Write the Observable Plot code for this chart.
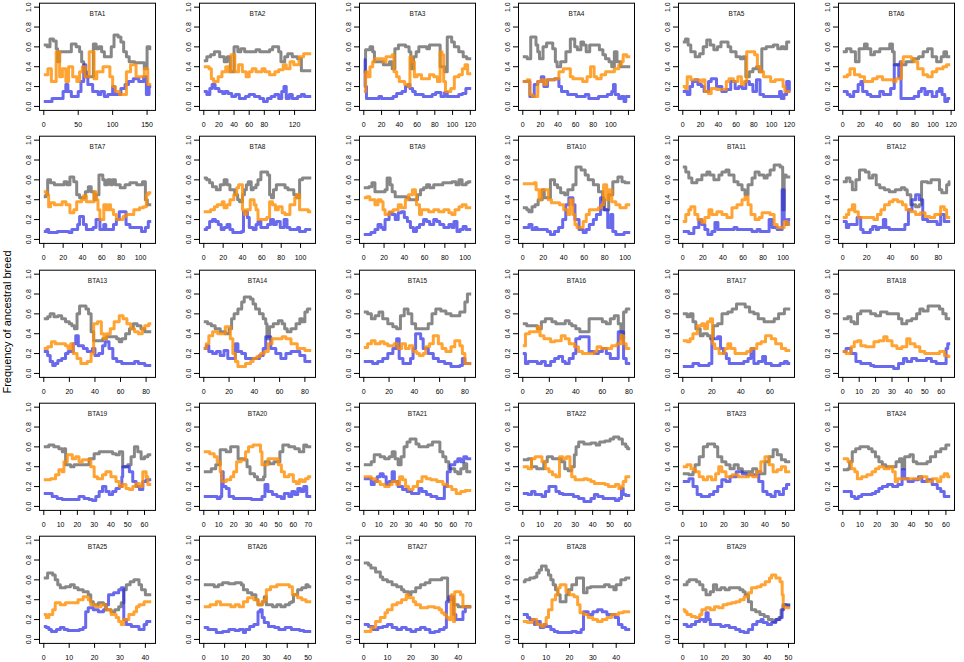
<!DOCTYPE html>
<html>
<head>
<meta charset="utf-8">
<script src="https://cdn.jsdelivr.net/npm/d3@7"></script>
<script src="https://cdn.jsdelivr.net/npm/@observablehq/plot@0.6"></script>
<style>
  html, body { margin: 0; padding: 0; background: #fff; }
  #wrap { position: relative; width: 964px; height: 662px; overflow: hidden; background: #fff;
          font-family: "Liberation Sans", Arial, sans-serif; }
  #ylab { position: absolute; left: 6.5px; top: 322px; transform: translate(-50%, -50%) rotate(-90deg);
          font-size: 11px; white-space: nowrap; color: #000; line-height: 1; }
</style>
</head>
<body>
<div id="wrap"><div id="ylab">Frequency of ancestral breed</div></div>
<script>
// ---- chart data -------------------------------------------------------
const names = ["BTA1","BTA2","BTA3","BTA4","BTA5","BTA6","BTA7","BTA8","BTA9","BTA10",
  "BTA11","BTA12","BTA13","BTA14","BTA15","BTA16","BTA17","BTA18","BTA19","BTA20",
  "BTA21","BTA22","BTA23","BTA24","BTA25","BTA26","BTA27","BTA28","BTA29"];

// chromosome length (Mb) = extent of each x axis
const lengths = [156,142,121,122,121,119, 111,111,106,105,107,90, 84,85,85,81,74,65.5,
  64,72,72,61.5,52.3,62.5, 42.3,51.5,45.5,46,50.8];

// x ticks: spacing, last tick, and tick labels left out (overlap in the original)
const tickStep = [50,20,20,20,20,20, 20,20,20,20,20,20, 20,20,20,20,20,10, 10,10,10,10,10,10, 10,10,10,10,10];
const tickMax  = [150,120,120,120,120,120, 100,100,100,100,100,80, 80,80,80,80,60,60, 60,70,70,60,50,60, 40,50,40,40,50];
const unlabeledTicks = [[],[100],[],[120],[],[], [],[],[],[],[],[], [],[],[],[],[],[], [],[],[],[],[],[], [],[],[],[],[]];
const yTicks = [0, 0.2, 0.4, 0.6, 0.8, 1.0];

// series: flat lists of position (Mb), frequency pairs
const gray = [
 [0,.62,5,.6,9,.68,14,.66,18,.58,20,.45,23,.55,40,.63,47,.6,52,.55,55,.45,58,.35,62,.3,72,.63,76,.58,80,.6,84,.55,88,.5,98,.6,102,.72,108,.7,112,.65,116,.55,120,.5,124,.45,132,.44,146,.38,150,.6,154,.58],
 [0,.46,4,.5,9,.52,14,.55,21,.5,27,.45,31,.5,35,.35,40,.6,45,.55,49,.58,54,.55,69,.57,74,.55,87,.57,91,.6,99,.55,102,.45,107,.5,111,.53,117,.5,124,.48,129,.36],
 [0,.35,2,.57,7,.6,10,.55,12,.45,22,.42,29,.45,32,.38,35,.58,39,.62,47,.6,51,.55,53,.38,56,.5,59,.55,62,.6,71,.58,74,.62,86,.4,91,.35,94,.7,99,.65,102,.6,107,.55,112,.5,116,.48],
 [0,.5,5,.48,9,.7,15,.62,17,.55,19,.48,23,.6,27,.64,34,.58,37,.45,39,.4,43,.45,49,.55,54,.68,59,.6,62,.57,66,.65,69,.62,72,.55,76,.62,87,.57,91,.52,94,.48,98,.45,101,.4,104,.55,107,.45,111,.4],
 [0,.65,3,.68,6,.62,9,.55,14,.5,19,.53,23,.6,27,.67,31,.62,35,.57,39,.6,43,.65,51,.6,54,.55,60,.5,65,.48,68,.5,71,.3,75,.35,79,.38,83,.4,86,.35,89,.58,94,.6,102,.62,107,.58,111,.6,114,.58,117,.65],
 [0,.55,4,.58,9,.55,14,.45,18,.58,24,.63,27,.58,31,.52,35,.55,41,.58,52,.63,55,.55,57,.42,62,.42,70,.45,78,.48,84,.5,89,.55,94,.58,99,.5,104,.45,109,.5,112,.55,115,.5],
 [0,.43,2,.45,4,.6,7,.57,11,.55,21,.58,24,.55,27,.63,31,.58,34,.45,37,.42,43,.48,46,.53,49,.48,52,.4,54,.45,57,.65,61,.6,63,.55,66,.6,69,.55,71,.6,74,.55,79,.52,84,.55,89,.57,96,.55,102,.58,105,.4,107,.35],
 [0,.62,3,.6,6,.57,9,.53,13,.5,17,.55,21,.6,24,.55,27,.5,32,.45,35,.4,37,.38,40,.45,42,.5,44,.55,46,.58,49,.5,51,.52,54,.55,56,.6,59,.68,66,.65,68,.45,70,.42,72,.5,75,.55,84,.52,87,.5,93,.45,96,.42,99,.6,102,.62],
 [0,.52,5,.53,8,.57,11,.48,21,.5,23,.62,26,.55,28,.48,31,.43,42,.42,45,.4,53,.45,56,.5,59,.52,62,.55,65,.52,69,.55,78,.57,87,.58,91,.55,94,.6,97,.55,101,.57,103,.58],
 [0,.32,4,.3,6,.28,9,.33,12,.35,15,.4,19,.5,21,.42,27,.6,31,.55,34,.52,37,.47,41,.45,44,.5,49,.55,52,.73,57,.7,61,.65,64,.6,69,.55,74,.48,78,.4,80,.3,84,.45,88,.58,93,.63,97,.58,100,.57],
 [0,.73,3,.68,6,.62,9,.57,14,.6,19,.65,24,.68,27,.65,31,.6,36,.65,39,.68,43,.7,46,.65,51,.58,55,.55,59,.5,62,.45,65,.55,69,.62,72,.68,76,.65,81,.62,84,.65,87,.7,91,.75,97,.73,99.5,.3,101,.65,103,.63],
 [0,.58,3,.62,6,.58,8,.5,11,.6,14,.7,19,.68,22,.62,25,.65,28,.55,31,.52,35,.5,39,.48,44,.5,49,.52,52,.5,54,.45,57,.35,61,.33,64,.35,66,.58,71,.57,74,.6,81,.5,83,.47,87,.55,89,.58],
 [0,.55,3,.57,5,.6,8,.57,11,.58,14,.55,17,.52,20,.5,22,.48,24,.45,26,.6,28,.68,33,.65,35,.6,37,.42,39,.33,46,.35,49,.37,57,.35,59,.32,61,.35,64,.4,67,.45,70,.5,73,.48,76,.45,79,.42],
 [0,.52,3,.5,6,.48,9,.45,13,.42,17,.4,20,.45,22,.55,24,.6,27,.65,30,.72,32,.77,37,.75,39,.7,41,.65,44,.6,47,.55,49,.5,50,.35,52,.47,55,.5,59,.53,62,.5,64,.45,66,.42,69,.45,73,.5,76,.55,78,.52,80,.62,82,.65],
 [0,.62,3,.6,6,.55,9,.58,12,.62,15,.55,19,.5,23,.47,26,.45,29,.58,32,.65,35,.6,38,.5,41,.45,51,.5,54,.6,57,.65,61,.63,65,.6,69,.58,76,.62,80,.72,82,.8],
 [0,.5,3,.48,11,.45,14,.52,17,.55,22,.52,25,.5,32,.53,35,.5,37,.48,40,.45,43,.42,50,.55,60,.52,63,.5,66,.55,69,.58,72,.5,74,.35,76,.62,78,.65],
 [0,.6,3,.57,5,.6,7,.52,9,.45,12,.38,14,.4,17,.38,19,.35,21,.48,24,.5,27,.6,31,.62,34,.65,37,.7,43,.67,46,.62,49,.6,52,.55,56,.52,63,.55,66,.6,70,.65],
 [0,.55,3,.57,5,.52,7,.5,9,.6,11,.63,17,.6,20,.58,23,.62,27,.6,34,.55,36,.5,39,.53,42,.55,45,.6,47,.65,49,.63,52,.68,59,.65,61,.6,63,.55],
 [0,.6,3,.62,6,.6,9,.58,11,.55,12,.58,13,.42,16,.4,18,.42,27,.48,30,.53,33,.55,41,.53,43,.52,45,.55,47,.4,50,.42,52,.5,54,.6,56,.55,58,.48,60,.5,62,.52],
 [0,.35,5,.38,8,.42,11,.57,15,.55,18,.6,23,.48,27,.47,29,.4,31,.33,34,.3,36,.27,40,.3,41,.45,44,.43,47,.45,51,.55,53,.62,57,.6,61,.58,64,.55,67,.62,69,.6],
 [0,.42,5,.45,7,.52,11,.5,14,.48,17,.5,19,.55,21,.48,23,.42,25,.5,27,.6,29,.65,31,.68,35,.63,37,.6,43,.62,46,.65,51,.55,53,.5,55,.45,57,.38,61,.35,63,.33,65,.38,67,.43,69,.35],
 [0,.47,3,.48,5,.4,8,.38,12,.45,14,.5,17,.48,22,.45,24,.38,26,.36,28,.4,29.5,.52,30.5,.6,32,.65,35,.63,39,.64,42,.62,44,.65,47,.66,50,.68,52,.7,55,.68,57,.63,59,.6,60,.58],
 [0,.33,3,.32,5,.35,6,.42,8,.5,10,.6,12,.63,15.5,.6,17,.5,19,.45,21,.42,23,.38,25,.42,27,.38,29,.35,34,.38,36,.35,38,.33,40,.45,42,.5,44,.57,46,.52,48,.47,50,.45],
 [0,.37,3,.38,4,.45,5.5,.55,7.5,.58,10,.6,15,.58,17,.55,19,.5,21,.45,23,.42,25,.4,31,.45,33,.48,34.5,.38,36,.5,39,.52,41,.45,43,.43,49,.45,51,.5,54,.55,57,.58,60,.62],
 [0,.62,1.5,.67,3.5,.65,4.5,.6,5.5,.55,6.5,.52,8.5,.53,10.5,.55,12,.52,13.5,.5,15.5,.48,17.5,.45,18.5,.38,19.5,.35,21.5,.37,23.5,.35,24.5,.3,26.5,.28,28,.3,29.5,.33,30.5,.37,31.5,.5,32.5,.55,34,.58,35.5,.6,37.5,.55,38.5,.5,40,.45],
 [0,.55,5,.53,7,.55,9,.57,12,.56,15,.57,18,.55,19,.5,21,.47,23,.45,25,.4,26,.35,28,.38,29,.43,30,.35,33,.33,35,.35,37,.33,39,.35,41,.37,42,.38,43,.45,45,.5,47,.52,49,.55,50,.53],
 [0,.77,2,.75,3,.72,5,.68,7,.63,8,.6,10,.58,12,.55,14,.53,16,.5,17,.48,19,.45,20,.48,22,.52,24,.55,26,.57,28,.6,33,.62,35.5,.4,38,.35,40,.33],
 [0,.58,1,.6,3,.62,5,.63,6,.67,7,.7,8,.74,10,.7,11,.65,12,.6,13,.55,14,.5,15,.45,16,.38,18.5,.45,19.5,.5,21,.55,23,.62,26,.47,27.5,.52,29,.53,35,.55,37,.53,39,.5,40,.55,42,.6,44,.62],
 [0,.55,2,.58,3,.6,6.5,.58,8,.55,9.5,.5,11,.45,13,.48,14.5,.55,16,.5,18,.52,20,.5,22,.52,27,.5,28.5,.48,29.5,.45,31,.38,32.5,.3,34.5,.28,36.5,.25,38.5,.23,40.5,.2,42.5,.18,44,.2,45.5,.22,46.5,.3,47.5,.35]
];

const orange = [
 [0,.32,6,.38,11,.25,18,.55,23,.3,27,.38,32,.25,36,.4,42,.3,48,.25,52,.35,56,.4,60,.3,66,.55,73,.28,77,.35,86,.4,96,.3,100,.2,104,.15,110,.12,120,.35,126,.42,134,.3,146,.38,151,.22],
 [0,.4,7,.38,10,.28,13,.25,19,.3,24,.35,29,.4,32,.35,36,.52,41,.35,46,.42,51,.35,56,.3,60,.35,64,.38,69,.35,77,.38,81,.35,87,.32,94,.35,99,.37,105,.42,109,.38,114,.45,119,.42,126,.5,132,.53],
 [0,.15,2,.35,4,.3,7,.4,10,.45,12,.48,22,.45,25,.5,32,.52,34,.35,37,.3,40,.25,46,.22,50,.2,52,.5,54,.45,57,.3,60,.32,65,.28,74,.32,79,.3,83,.25,86,.55,88,.52,90,.25,92,.15,98,.18,102,.3,107,.32,111,.38,114,.42,117,.33],
 [0,.25,5,.27,8,.12,11,.1,17,.25,21,.27,24,.22,27,.27,37,.28,41,.35,46,.38,54,.3,57,.28,68,.25,73,.3,77,.4,81,.3,84,.28,89,.32,94,.35,104,.38,109,.42,112,.45,114,.52,118,.5],
 [0,.2,3,.18,5,.3,9,.27,19,.25,22,.27,25,.15,29,.13,32,.18,38,.17,49,.25,52,.28,57,.25,62,.3,66,.22,69,.25,72,.55,81,.52,84,.4,87,.35,91,.3,99,.25,104,.27,113,.2,115,.15],
 [0,.3,5,.32,8,.38,13,.32,19,.3,24,.25,33,.28,38,.3,44,.27,56,.25,59,.28,65,.45,67,.5,76,.48,79,.45,83,.38,89,.32,94,.3,99,.35,104,.38,111,.4,115,.42],
 [0,.48,3,.45,5,.33,7,.37,11,.35,19,.38,23,.35,27,.27,31,.3,34,.38,39,.4,41,.44,44,.38,52,.48,54,.4,56,.3,58,.2,62,.35,65,.3,67,.35,69,.3,72,.25,75,.2,82,.23,85,.25,93,.3,99,.32,103,.33,106,.45,108,.47],
 [0,.28,7,.3,11,.33,14,.35,19,.38,21,.32,24,.35,27,.4,31,.45,34,.52,36,.55,40,.3,42,.25,44,.3,48,.4,52,.35,54,.3,56,.2,65,.22,68,.38,71,.35,74,.3,77,.33,81,.27,84,.25,89,.35,94,.42,96,.45,99,.3,108,.28],
 [0,.42,3,.43,6,.4,11,.35,14,.4,17,.38,19,.3,21,.25,25,.28,29,.3,34,.35,37,.32,41,.4,44,.45,48,.5,51,.45,52,.35,55,.25,57,.3,64,.28,69,.3,74,.28,79,.3,84,.27,87,.25,90,.3,94,.33,97,.35,101,.32],
 [0,.56,11,.57,13,.5,16,.4,18,.5,25,.4,28,.37,36,.35,40,.3,44,.25,46,.4,49,.25,51,.15,53,.12,59,.18,62,.25,65,.3,74,.32,77,.35,79,.55,82,.4,84,.5,87,.38,91,.35,95,.32,101,.35],
 [0,.18,3,.25,6,.3,8,.33,12,.25,15,.2,19,.17,22,.22,26,.3,29,.25,34,.28,39,.25,44,.22,49,.32,54,.35,59,.4,62,.43,65,.35,68,.25,72,.2,76,.22,79,.27,87,.25,91,.15,94,.12,101,.18,104,.15],
 [0,.22,3,.25,5,.3,8,.35,10,.28,13,.22,26,.2,29,.25,32,.3,35,.35,39,.38,42,.4,46,.38,50,.35,53,.3,57,.28,61,.25,65,.27,69,.23,73,.22,77,.25,82,.33,85,.3,87,.22],
 [0,.25,3,.27,6,.32,9,.3,17,.28,19,.25,21,.3,23,.2,26,.15,29,.1,34,.12,37,.2,39,.5,42,.52,45,.4,47,.35,49,.4,52,.45,55,.52,59,.58,62,.55,65,.5,68,.45,71,.42,74,.4,77,.45,79,.48,82,.5],
 [0,.25,2,.3,4,.38,7,.42,11,.4,17,.47,21,.35,23,.2,25,.12,27,.07,33,.1,37,.12,39,.15,42,.17,45,.2,48,.22,51,.3,54,.35,62,.37,65,.35,69,.3,74,.25,80,.23],
 [0,.26,3,.3,6,.33,9,.3,13,.32,16,.3,19,.28,24,.3,27,.25,30,.3,33,.25,36,.28,39,.22,42,.2,44,.18,47,.2,49,.27,52,.3,55,.38,59,.3,62,.25,65,.22,69,.27,72,.33,76,.28,78,.2,80,.1],
 [0,.28,2,.4,5,.42,11,.47,13,.38,16,.35,21,.32,24,.33,29,.38,32,.35,35,.3,39,.27,42,.22,45,.2,54,.22,56,.27,59,.25,67,.28,71,.3,74,.38,76,.3,78,.25],
 [0,.33,3,.32,5,.35,7,.4,10,.48,13,.5,15,.45,17,.52,19,.55,20.5,.3,22,.25,25,.2,29,.25,31,.3,33,.25,36,.2,44,.22,47,.25,51,.3,54,.32,57,.38,61,.35,64,.3,68,.25,71,.23],
 [0,.22,2,.2,5,.27,7,.32,9,.33,11,.28,14,.27,19,.32,22,.33,25,.37,27,.33,30,.28,33,.25,36,.27,39,.35,41,.3,44,.27,47,.22,50,.2,59,.22,62,.18,64,.17],
 [0,.27,4,.28,7,.32,9,.37,11,.35,12,.45,14,.52,17,.48,19,.5,21,.45,23,.47,28,.4,30,.3,32,.28,35,.32,37,.35,40,.3,43,.25,45,.2,47,.22,49,.18,51,.17,53,.2,55,.23,57,.2,59,.35,61,.3,62,.22],
 [0,.55,4,.53,7,.5,9,.45,11,.35,12,.25,15,.27,18,.3,20,.35,22,.45,25,.47,28,.55,30,.6,33,.62,38,.55,39,.42,43,.48,50,.42,52,.35,54,.3,57,.32,60,.25,62,.23,64,.27,66,.25,68,.28,70,.3],
 [0,.3,5,.28,8,.25,11,.22,14,.2,17,.22,19,.25,22,.22,24,.3,26,.27,28,.2,30,.17,33,.2,36,.25,39,.3,42,.28,45,.27,49,.25,53,.22,56,.2,59,.17,62,.13,65,.15,68,.16],
 [0,.4,3,.38,5,.48,7,.5,11,.45,13,.38,15,.35,17,.32,19,.3,21,.5,23,.48,25,.5,27,.4,28,.3,30,.27,35,.28,37,.27,39,.25,41,.23,47,.22,49,.2,53,.22,55,.18,56.5,.2,57.5,.25,59,.3],
 [0,.4,2,.42,4,.38,6,.35,8,.3,10,.27,12,.3,14,.27,16,.33,17.5,.4,19,.35,21,.3,24,.32,27,.3,32,.32,34,.3,36,.35,38,.45,40,.5,42,.42,44,.35,46,.37,48,.4,50,.35],
 [0,.48,3,.45,5,.38,7,.35,8.5,.28,11,.3,14,.32,17,.35,19,.38,21,.4,24,.38,27,.4,29,.35,30.5,.25,32,.28,45,.3,49,.25,52,.28,55,.25,57,.3,59,.33,61,.3],
 [0,.25,1,.22,2,.25,3.5,.3,4.5,.37,6.5,.35,8.5,.37,13.5,.4,15.5,.43,17.5,.4,18.5,.35,20.5,.33,22.5,.35,24.5,.3,26.5,.25,28.5,.22,29.5,.18,30.5,.15,31.5,.2,33.5,.25,35.5,.28,36.5,.33,37.5,.35,39.5,.38],
 [0,.33,3,.35,6,.38,8,.35,13,.33,15,.35,17,.33,19,.38,21,.42,24,.4,26,.35,28,.38,29,.4,30,.5,32,.53,35,.55,41,.53,42.5,.45,45,.42,47,.4,49,.38],
 [0,.08,2,.08,3,.12,5,.18,7,.22,9,.27,10,.3,12,.35,14,.37,16,.4,18,.45,19,.42,21,.38,22,.35,24,.32,27,.33,30,.32,32,.3,33,.27,34,.25,35,.22,36,.2,37,.45,38,.18,38.5,.48,41,.45,42,.33],
 [0,.18,2,.17,4,.2,6,.15,8,.13,9,.15,10,.22,11,.3,12.5,.4,14,.45,15,.52,16,.55,18.5,.48,20,.45,22,.43,23.5,.35,24.5,.27,26,.25,28,.22,30,.2,32,.18,34,.2,36,.22,38,.25,41,.27,43,.28],
 [0,.3,1,.28,2,.25,4,.23,6,.22,8,.25,9,.3,11,.32,13,.3,15,.33,17,.32,19,.35,21,.36,23,.37,25,.38,27,.4,29,.43,31,.47,32.5,.52,35,.53,37,.55,39,.58,41,.62,42,.65,44,.62,46,.58,47,.45,47.5,.33,48.5,.32]
];

const blue = [
 [0,.05,12,.08,28,.15,32,.22,35,.15,40,.1,50,.15,54,.25,58,.42,61,.3,64,.22,71,.15,79,.12,83,.15,88,.1,93,.12,100,.2,103,.12,112,.18,118,.22,123,.25,130,.28,138,.25,145,.3,149,.12,153,.2],
 [0,.15,4,.12,8,.18,11,.22,15,.18,20,.15,25,.13,28,.15,32,.13,37,.1,42,.12,47,.08,55,.1,60,.12,67,.1,74,.08,79,.05,84,.08,89,.1,94,.12,99,.08,103,.15,106,.2,109,.08,113,.12,117,.08,124,.1,129,.12,133,.1],
 [0,.47,1.5,.2,3,.08,17,.1,20,.08,33,.1,37,.13,43,.15,47,.2,50,.22,52,.18,55,.15,58,.12,67,.1,77,.12,81,.14,87,.1,91,.14,94,.1,107,.12,111,.13,115,.18],
 [0,.25,8,.1,13,.22,17,.25,21,.3,24,.2,28,.27,36,.28,41,.2,44,.15,51,.12,61,.1,71,.12,75,.08,86,.1,96,.12,101,.15,103,.22,105,.12,109,.08,112,.1,115,.05,117,.1],
 [0,.15,5,.12,8,.2,11,.25,14,.27,17,.22,21,.2,24,.15,29,.25,32,.28,38,.2,44,.15,49,.17,54,.25,59,.18,63,.2,67,.18,71,.25,75,.22,79,.15,83,.27,87,.12,91,.1,109,.15,111,.08,114,.12,117,.25,120,.15],
 [0,.15,5,.12,8,.1,12,.15,17,.22,20,.25,22,.15,27,.12,31,.1,41,.15,45,.12,53,.18,57,.42,62,.3,63.5,.45,64.5,.08,79,.1,84,.15,87,.18,91,.12,94,.15,99,.1,104,.15,107,.18,110,.12,113,.05,116,.08],
 [0,.08,3,.1,5,.07,14,.08,26,.07,29,.1,35,.15,37,.23,41,.15,44,.1,51,.12,54,.2,58,.1,62,.15,64,.1,72,.15,75,.2,78,.28,85,.15,89,.12,101,.08,105,.12,108,.18],
 [0,.1,3,.12,6,.18,9,.2,12,.18,15,.15,18,.1,21,.12,24,.15,27,.1,30,.07,39,.08,41,.28,45,.22,47,.12,51,.1,54,.15,56,.18,59,.12,66,.15,69,.2,72,.15,75,.18,79,.12,83,.2,86,.12,89,.1,97,.12,99,.08,105,.1],
 [0,.05,7,.07,11,.1,14,.15,17,.12,19,.1,21,.2,25,.27,28,.25,31,.2,34,.27,37,.28,40,.22,43,.18,46,.12,49,.08,52,.12,55,.15,59,.2,62,.18,65,.15,69,.2,72,.18,75,.15,79,.12,84,.15,87,.12,89,.18,92,.08,95,.1,98,.13,101,.1],
 [0,.12,6,.15,9,.1,12,.12,14,.1,24,.08,27,.05,31,.08,35,.12,39,.2,42,.35,45,.42,49,.35,51,.2,55,.1,59,.07,62,.1,65,.15,69,.2,72,.25,76,.42,79,.3,83,.12,86,.25,88,.08,91,.05,99,.07],
 [0,.08,6,.06,11,.12,16,.2,19,.15,22,.1,25,.05,29,.08,32,.17,35,.1,51,.12,54,.1,69,.08,74,.1,77,.08,86,.2,89,.12,94,.1,99,.5,101,.2,103,.15,105,.2],
 [0,.18,3,.12,5,.15,12,.22,15,.1,17,.07,23,.1,25,.13,28,.1,30,.12,34,.2,36,.12,39,.1,52,.15,55,.3,58,.4,61,.45,64,.4,67,.2,71,.18,79,.15,82,.25,85,.18],
 [0,.22,3,.18,5,.12,7,.08,9,.1,11,.13,14,.15,17,.2,19,.22,23,.3,25,.38,27,.28,31,.25,34,.22,38,.25,40,.18,43,.2,46,.28,48,.32,51,.25,54,.15,57,.12,61,.1,71,.12,74,.1,79,.08],
 [0,.25,2,.28,4,.22,7,.2,10,.22,13,.18,16,.23,19,.15,25,.3,27,.22,30,.2,33,.15,44,.18,47,.25,49,.37,53,.25,57,.2,61,.15,65,.2,69,.22,76,.18,80,.12],
 [0,.12,7,.1,11,.12,15,.15,19,.2,23,.25,26,.35,28,.15,31,.1,37,.15,39,.25,41,.4,45,.35,47,.25,51,.2,55,.15,59,.12,64,.1,69,.07,76,.08,78,.15,80,.1],
 [0,.2,2,.1,4,.12,11,.1,14,.12,17,.08,21,.12,24,.15,27,.17,30,.12,32,.1,35,.15,38,.2,40,.35,43,.37,50,.22,54,.2,57,.22,60,.25,63,.2,66,.15,72,.42,76,.15,78,.1],
 [0,.07,7,.1,11,.08,18,.1,20,.35,24,.37,26,.25,28,.2,30,.15,32,.1,42,.12,45,.15,47,.25,49,.1,52,.12,55,.17,57,.1,61,.08,67,.1,70,.12,72,.1],
 [0,.22,2,.25,5,.2,8,.12,11,.1,17,.08,19,.07,31,.05,34,.1,37,.15,39,.12,42,.15,45,.13,51,.15,54,.12,57,.1,63,.25,64,.3],
 [0,.13,5,.1,8,.08,11,.07,21,.1,24,.08,27,.07,29,.06,31,.1,33,.15,35,.2,37,.15,39,.12,41,.15,43,.18,45,.2,46.5,.3,47,.4,51,.35,53,.25,55,.2,57,.17,59,.25,61,.27],
 [0,.1,9,.08,11,.1,12,.35,13,.2,15,.18,17,.1,20,.08,32,.07,39,.1,41,.22,43,.15,46,.12,49,.1,52,.08,54,.13,57,.1,59,.15,61,.12,63,.18,65,.15,67,.2,69,.1],
 [0,.28,5,.22,7,.25,9,.3,11,.33,13,.3,15,.22,17,.25,19,.35,20.5,.25,23,.2,26,.17,29,.15,32,.13,37,.18,39,.15,42,.12,45,.1,49,.08,54,.2,56,.35,58,.42,61,.45,63,.48,65,.45,67,.5,69,.48],
 [0,.13,3,.12,5,.15,7,.12,11,.1,13,.15,15,.2,19,.15,21,.13,23,.12,29,.1,32,.08,35,.05,39,.08,41,.12,43,.1,46,.08,53,.06,55,.08,56.5,.18,57.5,.12,59,.11],
 [0,.25,3,.28,5,.2,7,.12,9,.1,13,.12,15,.15,17,.2,19,.27,21,.25,23,.3,26,.35,29,.33,31,.32,37,.25,39,.15,41,.12,43,.1,45,.15,47,.12,49,.18,50.5,.22],
 [0,.15,5,.1,7,.08,9,.1,11,.12,17,.13,19,.15,21,.18,23,.2,26,.22,29,.2,32,.22,34.5,.37,36,.28,38,.25,41,.27,44,.3,46,.25,49,.27,52,.22,55,.18,57,.15,59,.1],
 [0,.13,1,.12,2,.1,3,.08,5,.1,6.5,.12,8,.1,9.5,.09,14,.1,15.5,.12,16.5,.28,17.5,.32,19.5,.3,21.5,.28,23.5,.3,24.5,.35,25.5,.45,27.5,.47,29.5,.5,30.5,.52,31.5,.2,32.5,.15,34.5,.13,37.5,.1,39.5,.15,40.5,.18],
 [0,.12,2,.1,6,.07,9,.08,12,.1,15,.09,17,.1,19,.07,20,.1,22,.13,24,.15,26,.28,27,.3,28,.22,29,.17,31,.13,34,.12,36,.1,39,.12,42,.1,46,.09,48,.08],
 [0,.15,2,.13,4,.1,6,.12,8,.13,10,.15,12,.12,14,.1,16,.12,18,.1,20,.08,22,.1,24,.12,26,.1,28,.07,30,.08,32,.1,34,.12,35,.38,36,.43,38,.25,39,.2,42,.28,43,.33],
 [0,.25,2,.22,3,.2,5,.15,6,.18,7.5,.12,9,.15,10,.13,12,.1,13.5,.08,15,.07,21,.08,23,.07,25,.1,26,.28,28,.25,30,.28,32,.3,34,.28,36,.25,39.5,.22,41,.15,42.5,.12,44,.1],
 [0,.15,2,.13,4,.15,6,.18,8,.2,10,.18,11,.27,12,.2,13,.15,18,.13,20,.14,22,.12,25,.1,27,.08,29,.07,31,.1,33,.15,35,.18,37,.2,38,.17,40,.15,42,.17,44,.2,46,.22,47,.3,47.5,.35,49,.34]
];

// ---- drawing -----------------------------------------------------------
const wrap = document.getElementById("wrap");
const colW = 159.8, rowH = 133.3;
const fmtY = d3.format(".1f");

function toPoints(flat, L) {
  const pts = [];
  for (let j = 0; j < flat.length; j += 2) pts.push({pos: flat[j], freq: flat[j + 1]});
  pts.push({pos: L, freq: flat[flat.length - 1]});
  return pts;
}

names.forEach((name, i) => {
  const r = Math.floor(i / 6), c = i % 6;
  const L = lengths[i];
  const xmin = -0.04 * L, xmax = 1.04 * L;
  const ticks = d3.range(0, tickMax[i] + 1e-9, tickStep[i]);
  const hidden = unlabeledTicks[i];
  const lineOpts = {x: "pos", y: "freq", curve: "step-after", strokeWidth: 3,
                    strokeLinejoin: "round", strokeLinecap: "butt"};
  const svg = Plot.plot({
    width: 160, height: 133,
    marginLeft: 39, marginRight: 5, marginTop: 2.7, marginBottom: 23.1,
    style: {fontFamily: "'Liberation Sans', Arial, sans-serif", fontSize: "7px",
            background: "transparent", color: "#000", overflow: "visible"},
    x: {domain: [xmin, xmax], label: null},
    y: {domain: [-0.04, 1.04], label: null},
    marks: [
      Plot.line(toPoints(gray[i], L), {...lineOpts, stroke: "#7a7a7a", strokeOpacity: 0.9}),
      Plot.line(toPoints(blue[i], L), {...lineOpts, stroke: "#2a2ae6", strokeOpacity: 0.7}),
      Plot.line(toPoints(orange[i], L), {...lineOpts, stroke: "#ff8c00", strokeOpacity: 0.8}),
      Plot.frame({stroke: "#000", strokeWidth: 1}),
      Plot.axisX({ticks, tickSize: 5, tickPadding: 6.5,
                  tickFormat: d => hidden.includes(d) ? "" : String(d)}),
      Plot.axisY({ticks: yTicks, tickSize: 5, tickRotate: -90, tickPadding: 4, tickFormat: fmtY}),
      Plot.text([name], {frameAnchor: "top", dy: 8.5, fontSize: 6.5, fill: "#111"})
    ]
  });
  svg.style.position = "absolute";
  svg.style.left = (c * colW) + "px";
  svg.style.top = (r * rowH) + "px";
  wrap.appendChild(svg);
});
</script>
</body>
</html>
